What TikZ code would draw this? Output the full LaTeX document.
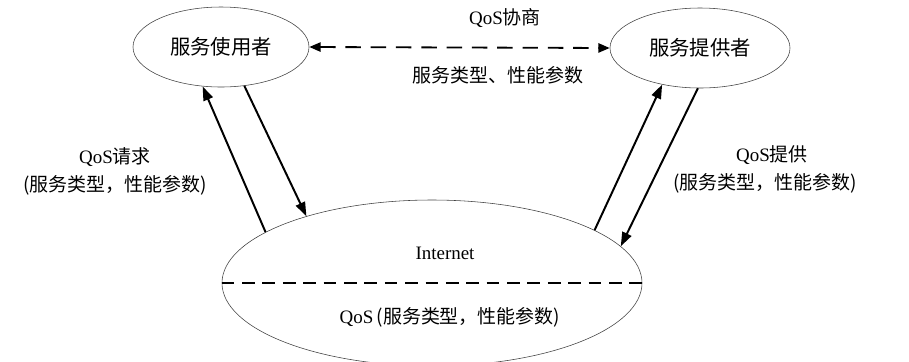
\documentclass[tikz,border=0pt]{standalone}
\usepackage{fontspec}
\setmainfont{Liberation Serif}
\newfontfamily\cjk{Noto Sans CJK SC}
\usepackage{tikz}
\usetikzlibrary{positioning,arrows.meta,shapes.geometric}

\begin{document}
\begin{tikzpicture}[
  lbl/.style={font=\fontsize{13.5}{16}\selectfont, inner sep=1pt, align=center},
  ent/.style={ellipse, draw=black!75, line width=0.4pt, inner sep=0pt, font=\fontsize{14.5}{17}\selectfont},
  msg/.style={draw=black, line width=1.4pt, -{Triangle[length=10pt,width=7pt]}},
  nego/.style={draw=black, line width=1.3pt, dash pattern=on 11pt off 7pt, {Triangle[length=8pt,width=6.5pt]}-{Triangle[length=8pt,width=6.5pt]}},
  sepline/.style={draw=black, line width=1.4pt, dash pattern=on 9pt off 5.5pt}
]
\useasboundingbox (0,0) rectangle (22.725,-9.025);

\node[ent, minimum width=4.4cm, minimum height=2.0cm] (user) at (5.525,-1.175) {\cjk 服务使用者};
\node[ent, minimum width=4.5cm, minimum height=2.0cm] (prov) at (17.5,-1.2) {\cjk 服务提供者};
\node[ent, minimum width=10.5cm, minimum height=4.15cm] (net) at (10.8,-7.075) {};

\draw[sepline] (net.west) -- (net.east);
\node[lbl] (inet) at (11.125,-6.325) {Internet};
\node[lbl] (qos) at (11.25,-7.925) {QoS\,{\cjk (服务类型，性能参数)}};

\draw[nego] (user.east) -- (prov.west);
\node[lbl] (neg) at (12.625,-0.45) {QoS{\cjk 协商}};
\node[lbl] (negp) at (12.45,-1.875) {\cjk 服务类型、性能参数};

\draw[msg] (net.163) -- (user.245);
\draw[msg] (user.-59) -- (net.152);
\draw[msg] (net.18) -- (prov.224);
\draw[msg] (prov.267) -- (net.11);

\node[lbl] (req) at (2.875,-3.925) {QoS{\cjk 请求}};
\node[lbl] (reqp) at (2.875,-4.625) {\cjk (服务类型，性能参数)};
\node[lbl] (off) at (19.3,-3.875) {QoS{\cjk 提供}};
\node[lbl] (offp) at (19.125,-4.575) {\cjk (服务类型，性能参数)};

\end{tikzpicture}
\end{document}
